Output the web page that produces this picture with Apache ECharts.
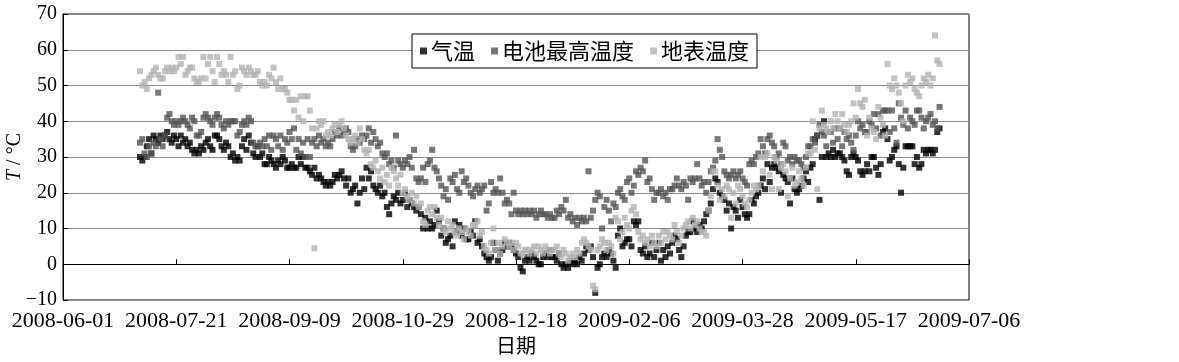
<!DOCTYPE html>
<html><head><meta charset="utf-8">
<script src="https://cdn.jsdelivr.net/npm/echarts@6/dist/echarts.min.js"></script>
<style>html,body{margin:0;padding:0;background:#fff}#c{width:1179px;height:362px}</style>
</head><body><div id="c"></div>
<script>
// ---- data ----
const axisStartDate = '2008-06-01';
const firstDataDate = '2008-07-05';   // one value per day from this date
const xTickLabels = ['2008-06-01','2008-07-21','2008-09-09','2008-10-29','2008-12-18','2009-02-06','2009-03-28','2009-05-17','2009-07-06'];
const yTickValues = [-10,0,10,20,30,40,50,60,70];
const seriesNames = ['气温','电池最高温度','地表温度'];

const airTemp = [
30,29,30,33,35,31,36,35,34,36,35,36,37,35,34,36,35,33,36,34,35,33,34,32,31,32,31,33,32,34,35,33,32,36,36,35,33,32,34,33,30,31,29,30,29,
33,35,32,36,34,31,30,33,30,31,28,28,30,29,28,27,29,28,30,29,27,27,28,27,27,30,28,30,27,27,26,25,27,24,25,24,23,22,23,22,23,25,24,25,26,24,
22,24,20,21,22,17,20,24,21,27,24,26,22,21,20,22,19,20,16,14,17,19,18,20,17,18,20,16,18,17,16,15,16,14,10,13,10,12,10,11,15,12,8,10,6,7,
8,5,12,9,11,8,10,7,7,9,8,12,6,7,5,3,2,1,2,6,4,1,3,4,6,5,6,5,4,3,2,-1,-2,1,2,1,3,2,1,0,0,2,3,2,4,2,
2,1,3,0,-1,0,-1,1,0,1,0,2,1,3,5,4,5,2,-8,-1,0,2,3,2,4,3,1,-1,8,10,5,6,7,7,5,12,11,12,4,3,5,2,3,6,2,4,
6,1,4,2,5,3,6,8,7,4,2,5,8,9,9,12,10,9,11,10,12,14,15,17,21,24,23,20,19,18,15,17,10,16,15,13,18,16,14,13,14,18,17,19,20,22,24,
21,28,23,27,28,27,26,20,25,24,23,17,24,21,20,21,22,24,26,23,27,28,35,36,18,30,40,30,31,30,32,30,31,31,30,29,26,25,30,31,30,29,26,25,26,
28,26,30,30,27,25,28,37,38,35,29,30,32,33,28,20,27,33,33,33,33,28,30,27,28,32,31,32,32,31,32,37,38
];
const batteryMaxTemp = [
34,35,31,30,33,31,34,33,48,35,33,36,41,42,40,39,40,39,40,41,40,39,38,41,40,36,36,37,41,42,41,40,39,41,42,41,39,38,40,39,40,40,40,36,37,
39,40,39,41,40,34,33,33,34,33,35,33,36,32,36,35,33,36,32,35,34,37,35,38,32,35,31,34,30,35,30,34,35,33,36,34,35,33,34,33,35,37,36,38,36,37,
38,37,33,32,33,35,34,36,35,36,38,34,37,35,33,34,31,30,31,28,29,27,36,29,28,27,29,28,30,27,32,24,23,24,27,23,28,29,32,27,26,24,22,19,21,18,
24,23,25,21,20,26,23,24,22,20,19,21,22,20,21,22,15,17,23,20,21,20,24,20,17,18,17,14,20,15,14,15,14,15,14,15,14,15,13,14,15,14,14,13,14,13,
13,15,14,16,15,18,13,14,12,13,11,13,12,13,12,26,13,15,18,20,19,10,16,18,15,12,17,16,20,21,19,18,23,24,20,22,26,25,27,26,29,23,24,21,18,20,
20,21,19,20,18,21,21,22,24,22,21,23,22,18,24,23,24,28,24,22,23,20,23,26,27,29,35,32,30,26,25,24,25,26,24,25,26,24,23,22,28,29,28,30,31,35,33,
31,35,36,34,33,30,31,28,34,33,29,30,28,30,29,29,28,27,30,33,33,35,34,36,39,37,36,33,37,37,34,38,35,38,33,37,35,36,34,32,36,40,38,39,37,
37,40,39,42,38,42,36,43,43,43,37,43,38,34,45,41,39,43,38,41,40,39,43,43,41,38,40,41,42,39,40,38,44
];
const surfaceTemp = [
54,50,51,49,52,53,54,55,53,52,52,54,55,54,55,54,55,58,56,58,53,54,55,55,52,51,51,52,58,52,56,58,54,51,58,56,53,54,53,51,58,53,54,49,50,
55,54,53,55,54,53,53,54,51,50,51,50,53,52,55,51,49,52,49,49,48,46,46,43,46,41,47,40,47,47,43,38,4.5,38,40,39,40,36,37,36,38,39,37,39,40,38,
36,35,34,35,36,34,38,35,32,31,32,28,27,29,26,24,27,23,25,22,27,26,24,22,25,20,21,19,18,20,17,19,16,17,12,11,15,16,14,16,13,11,13,10,9,12,
10,11,9,8,10,9,7,10,9,8,11,11,12,8,9,5,4,3,6,10,4,6,3,5,7,6,5,6,4,6,5,3,3,4,4,3,4,5,3,5,4,3,5,4,3,4,
4,5,3,2,4,3,1,2,3,2,4,3,6,7,6,5,4,-6,-7,4,5,7,6,4,6,5,3,13,12,7,9,13,11,10,15,16,14,9,7,8,6,7,5,8,6,5,
8,6,9,7,9,8,7,11,9,6,8,10,11,12,10,13,11,12,10,9,9,8,15,19,26,26,22,18,21,19,22,21,13,20,17,22,21,19,17,16,18,20,22,21,22,30,26,
30,31,25,21,30,29,21,27,28,26,19,24,27,22,23,26,24,22,27,31,31,40,32,21,38,43,39,38,37,40,38,42,40,38,42,39,37,39,40,45,41,49,45,44,46,
36,41,38,37,35,44,41,39,36,56,50,49,52,50,48,45,40,50,53,51,52,49,48,47,50,52,51,53,50,52,64,57,56
];

// ---- build ----
const DAY = 86400000;
function utc(s){ const p = s.split('-').map(Number); return Date.UTC(p[0], p[1]-1, p[2]); }
const firstOffset = (utc(firstDataDate) - utc(axisStartDate)) / DAY;
function toPoints(arr){ return arr.map((v,i) => v == null ? null : [firstOffset + i, v]); }

const colors = ['#000000', '#555555', '#b3b3b3'];
const serif = '"Liberation Serif", "Times New Roman", serif';
const cjk = '"Noto Sans CJK SC", sans-serif';

const chart = echarts.init(document.getElementById('c'), null, {renderer: 'canvas'});
chart.setOption({
  animation: false,
  backgroundColor: '#ffffff',
  grid: { left: 63, right: 210, top: 14, bottom: 62, containLabel: false, outerBoundsMode: 'none',
          show: true, borderColor: '#000', borderWidth: 1, backgroundColor: 'transparent' },
  legend: {
    data: seriesNames,
    left: 412, top: 34,
    backgroundColor: '#ffffff', borderColor: '#000', borderWidth: 1,
    padding: [6, 8], itemGap: 16, itemWidth: 7, itemHeight: 7,
    icon: 'rect',
    textStyle: { fontFamily: cjk, fontSize: 22, color: '#000', padding: [0,0,0,-1] }
  },
  xAxis: {
    type: 'value', min: 0, max: 400, interval: 50,
    name: '日期', nameLocation: 'middle', nameGap: 35, nameMoveOverlap: false,
    nameTextStyle: { fontFamily: cjk, fontSize: 20, color: '#000' },
    axisLine: { show: true, lineStyle: { color: '#000', width: 1 } },
    axisTick: { show: true, inside: true, length: 5, lineStyle: { color: '#000' } },
    axisLabel: { margin: 10, fontFamily: serif, fontSize: 22, color: '#000', hideOverlap: false,
      formatter: v => xTickLabels[Math.round(v / 50)] ?? '' },
    splitLine: { show: false }
  },
  yAxis: {
    type: 'value', min: yTickValues[0], max: yTickValues[yTickValues.length-1], interval: 10,
    name: '{i|T} / °C', nameLocation: 'middle', nameGap: 38, nameRotate: 90, nameMoveOverlap: false,
    nameTextStyle: { fontFamily: serif, fontSize: 20, color: '#000',
      rich: { i: { fontFamily: serif, fontSize: 20, fontStyle: 'italic', color: '#000' } } },
    axisLine: { show: true, lineStyle: { color: '#000', width: 1 } },
    axisTick: { show: true, inside: true, length: 5, lineStyle: { color: '#000' } },
    axisLabel: { margin: 6, fontFamily: serif, fontSize: 20, color: '#000',
      formatter: v => v < 0 ? '\u2212' + Math.abs(v) : String(v) },
    splitLine: { show: true, lineStyle: { color: '#8c8c8c', width: 1 } }
  },
  series: [
    { name: seriesNames[0], type: 'scatter', symbol: 'rect', symbolSize: 6, itemStyle: { color: colors[0] }, data: toPoints(airTemp), z: 2 },
    { name: seriesNames[1], type: 'scatter', symbol: 'rect', symbolSize: 6, itemStyle: { color: colors[1] }, data: toPoints(batteryMaxTemp), z: 3 },
    { name: seriesNames[2], type: 'scatter', symbol: 'rect', symbolSize: 6, itemStyle: { color: colors[2] }, data: toPoints(surfaceTemp), z: 4 }
  ]
});
</script></body></html>
